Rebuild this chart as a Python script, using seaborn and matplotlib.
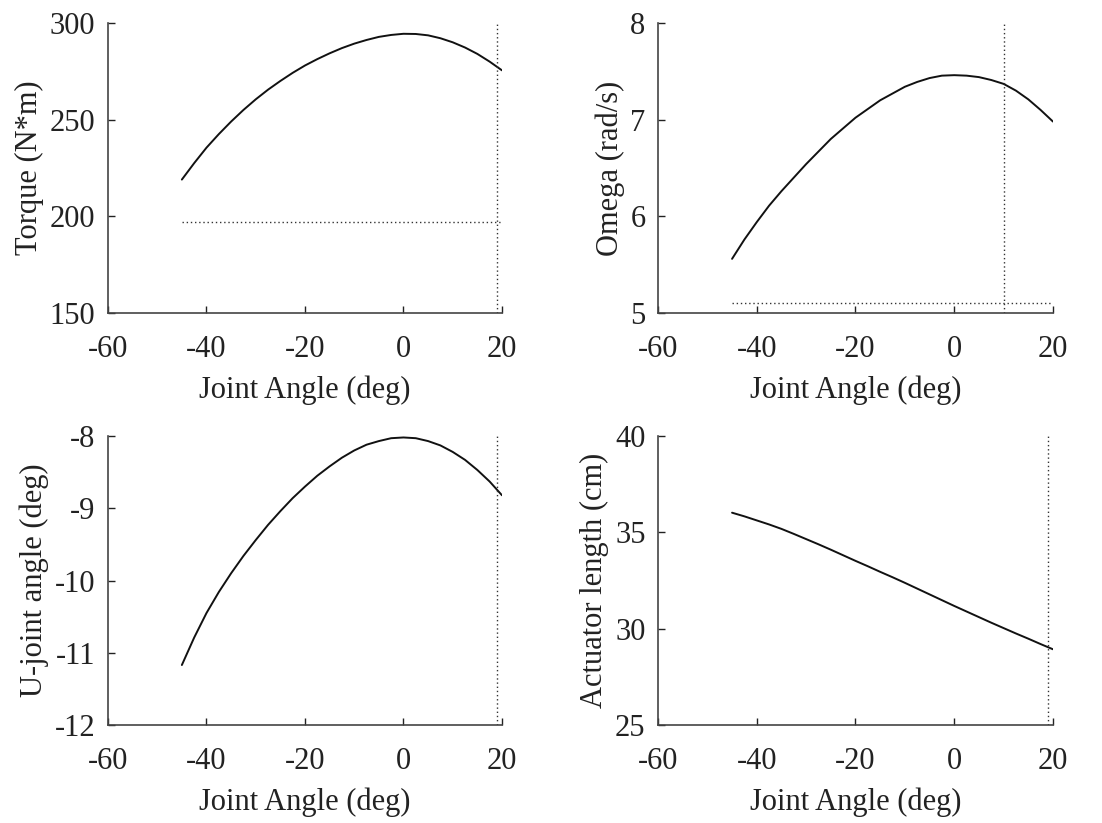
import matplotlib
matplotlib.use("Agg")
import matplotlib.pyplot as plt
import seaborn as sns
import pandas as pd

# ---- data ----
joint_angle = [-45, -42.5, -40, -37.5, -35, -32.5, -30, -27.5, -25, -22.5, -20, -17.5, -15, -12.5,
               -10, -7.5, -5, -2.5, 0, 2.5, 5, 7.5, 10, 12.5, 15, 17.5, 20]
torque = [219.0, 227.5, 235.5, 242.5, 249.0, 255.0, 260.5, 265.5, 270.0, 274.2, 278.0, 281.3, 284.3, 287.0,
          289.3, 291.2, 292.8, 293.8, 294.4, 294.3, 293.6, 292.1, 290.0, 287.3, 284.0, 280.0, 275.5]
omega = [5.56, 5.76, 5.94, 6.11, 6.26, 6.40, 6.54, 6.67, 6.80, 6.91, 7.02, 7.11, 7.20, 7.27,
         7.34, 7.39, 7.43, 7.455, 7.46, 7.455, 7.44, 7.41, 7.37, 7.30, 7.21, 7.10, 6.98]
ujoint = [-11.17, -10.79, -10.45, -10.16, -9.90, -9.66, -9.44, -9.23, -9.04, -8.86, -8.70, -8.55, -8.42, -8.30,
          -8.20, -8.12, -8.07, -8.03, -8.02, -8.03, -8.07, -8.13, -8.22, -8.33, -8.47, -8.63, -8.82]
actuator = [36.02, 35.83, 35.62, 35.41, 35.18, 34.92, 34.65, 34.38, 34.10, 33.81, 33.52, 33.24, 32.95, 32.67,
            32.38, 32.08, 31.78, 31.48, 31.18, 30.89, 30.60, 30.31, 30.03, 29.75, 29.48, 29.20, 28.93]

torque_limit = 197.0
omega_limit = 5.1
torque_vline = 19
omega_vline = 10
ujoint_vline = 19
actuator_vline = 19

x_ticks = [-60, -40, -20, 0, 20]
torque_ticks = [150, 200, 250, 300]
omega_ticks = [5, 6, 7, 8]
ujoint_ticks = [-12, -11, -10, -9, -8]
actuator_ticks = [25, 30, 35, 40]

xlabel = "Joint Angle (deg)"
ylabels = ["Torque (N*m)", "Omega (rad/s)", "U-joint angle (deg)", "Actuator length (cm)"]

df = pd.DataFrame({"angle": joint_angle, "torque": torque, "omega": omega,
                   "ujoint": ujoint, "actuator": actuator})

sns.set_theme(style="ticks")
plt.rcParams["font.family"] = ["Liberation Serif", "DejaVu Serif"]

fig = plt.figure(figsize=(11.02, 8.23), dpi=100)
positions = [
    [0.098, 0.6197, 0.3575, 0.3524],
    [0.5971, 0.6197, 0.3584, 0.3524],
    [0.098, 0.1191, 0.3575, 0.3511],
    [0.5971, 0.1191, 0.3584, 0.3511],
]
cols = ["torque", "omega", "ujoint", "actuator"]
yticks = [torque_ticks, omega_ticks, ujoint_ticks, actuator_ticks]
vlines = [torque_vline, omega_vline, ujoint_vline, actuator_vline]
hlines = [torque_limit, omega_limit, None, None]

spine_col = "#444444"
for i in range(4):
    ax = fig.add_axes(positions[i])
    sns.lineplot(data=df, x="angle", y=cols[i], ax=ax, color="#111111", linewidth=1.4)
    yt = yticks[i]
    ax.set_xlim(x_ticks[0], x_ticks[-1])
    ax.set_ylim(yt[0], yt[-1])
    ax.axvline(vlines[i], color="#333333", linestyle=(0, (1, 2)), linewidth=1.0)
    if hlines[i] is not None:
        ax.hlines(hlines[i], joint_angle[0], joint_angle[-1], color="#333333",
                  linestyle=(0, (1, 2)), linewidth=1.0)
    ax.set_xticks(x_ticks)
    ax.set_yticks(yt)
    ax.set_xticklabels([str(v) for v in x_ticks])
    ax.set_yticklabels([str(v) for v in yt])
    ax.set_xlabel(xlabel, fontsize=22, labelpad=8, color="#222222")
    ax.set_ylabel(ylabels[i], fontsize=22, labelpad=4, color="#222222")
    ax.tick_params(axis="both", direction="in", length=5, width=1.0,
                   labelsize=22, colors="#222222")
    ax.tick_params(axis="x", pad=16)
    ax.tick_params(axis="y", pad=9)
    for s in ["top", "right"]:
        ax.spines[s].set_visible(False)
    for s in ["left", "bottom"]:
        ax.spines[s].set_color(spine_col)
        ax.spines[s].set_linewidth(1.2)
    ax.set_facecolor("white")

fig.savefig("out.png", dpi=100, facecolor="white")
